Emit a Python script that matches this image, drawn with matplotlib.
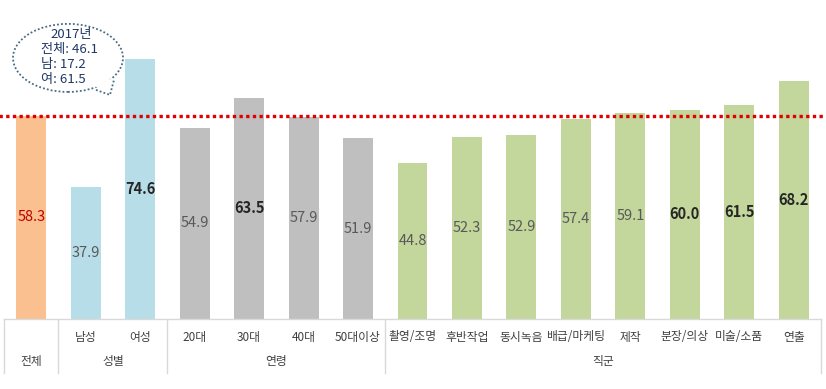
import matplotlib.pyplot as plt
import matplotlib.transforms as mtransforms
from matplotlib.patches import Ellipse, Polygon

plt.rcParams['font.family'] = ['Noto Sans CJK KR', 'DejaVu Sans']

# Data
categories = ['전체', '남성', '여성', '20대', '30대', '40대', '50대이상',
              '촬영/조명', '후반작업', '동시녹음', '배급/마케팅', '제작',
              '분장/의상', '미술/소품', '연출']
values = [58.3, 37.9, 74.6, 54.9, 63.5, 57.9, 51.9,
          44.8, 52.3, 52.9, 57.4, 59.1, 60.0, 61.5, 68.2]
groups = ['전체', '성별', '성별', '연령', '연령', '연령', '연령',
          '직군', '직군', '직군', '직군', '직군', '직군', '직군', '직군']
bold_values = [74.6, 63.5, 60.0, 61.5, 68.2]
overall = 58.3
bubble_lines = ['2017년', '전체: 46.1', '남: 17.2', '여: 61.5']

group_colors = {'전체': '#FAC090', '성별': '#B7DEE8', '연령': '#BFBFBF', '직군': '#C3D69B'}

W, H = 826, 389
fig = plt.figure(figsize=(W / 100, H / 100), dpi=100)
ax = fig.add_axes([4 / W, (H - 319) / H, 817 / W, 319 / H])

x = list(range(len(categories)))
colors = [group_colors[g] for g in groups]
ax.bar(x, values, width=0.55, color=colors, zorder=2)

ax.set_xlim(-0.5, len(categories) - 0.5)
ax.set_ylim(0, 91.5)
ax.axis('off')

# reference line for overall value
ax.axhline(overall, xmin=-0.01, xmax=1.01, color='#E00000', linestyle=(0, (1, 1)),
           linewidth=2.4, zorder=3, clip_on=False)

# value labels inside the bars
for i, v in enumerate(values):
    if i == 0:
        color, weight = '#C00000', 'normal'
    elif v in bold_values:
        color, weight = '#262626', 'bold'
    else:
        color, weight = '#595959', 'normal'
    ax.text(i, v / 2, f'{v:.1f}', ha='center', va='center', fontsize=10.5,
            color=color, fontweight=weight, zorder=4)

# category table under the axis
trans = mtransforms.blended_transform_factory(ax.transData, ax.transAxes)
row1 = -18 / 319
row2 = -43 / 319
bottom = -54 / 319
ax.plot([-0.5, len(categories) - 0.5], [0, 0], transform=trans, color='#D9D9D9',
        linewidth=1, clip_on=False)

start = 0
for i in range(1, len(groups) + 1):
    if i == len(groups) or groups[i] != groups[start]:
        n = i - start
        center = (start + i - 1) / 2
        ax.text(center, row2, groups[start], transform=trans, ha='center', va='center',
                fontsize=8.5, color='#404040')
        if n > 1:
            for j in range(start, i):
                ax.text(j, row1, categories[j], transform=trans, ha='center', va='center',
                        fontsize=8.5, color='#404040')
        ax.plot([start - 0.5, start - 0.5], [0, bottom], transform=trans,
                color='#D9D9D9', linewidth=1, clip_on=False)
        start = i
ax.plot([len(groups) - 0.5] * 2, [0, bottom], transform=trans,
        color='#D9D9D9', linewidth=1, clip_on=False)


# speech bubble (pixel positions converted to data coords)
def px(xp, yp):
    return (xp - 4) / 54.47 - 0.5, (319 - yp) / 3.485


bc = px(68, 58)
edge = '#4A6A82'
ell = Ellipse(bc, 110 / 54.47, 68 / 3.485, facecolor='white', edgecolor=edge,
              linestyle=(0, (1, 1.2)), linewidth=1.3, zorder=5)
ax.add_patch(ell)
tail = [px(96, 90), px(110, 95), px(114, 80)]
ax.add_patch(Polygon([px(94, 86), px(110, 95), px(112, 78), px(104, 82)], closed=True,
                     facecolor='white', edgecolor='none', zorder=6))
ax.plot([p[0] for p in tail], [p[1] for p in tail], color=edge,
        linestyle=(0, (1, 1.2)), linewidth=1.3, zorder=7)

text_color = '#1F3864'
ax.text(*px(71, 35), bubble_lines[0], ha='center', va='center', fontsize=9.5,
        color=text_color, zorder=8)
for k, line in enumerate(bubble_lines[1:]):
    ax.text(*px(41, 50 + k * 15), line, ha='left', va='center', fontsize=9.5,
            color=text_color, zorder=8)

fig.savefig('out.png', dpi=100)
